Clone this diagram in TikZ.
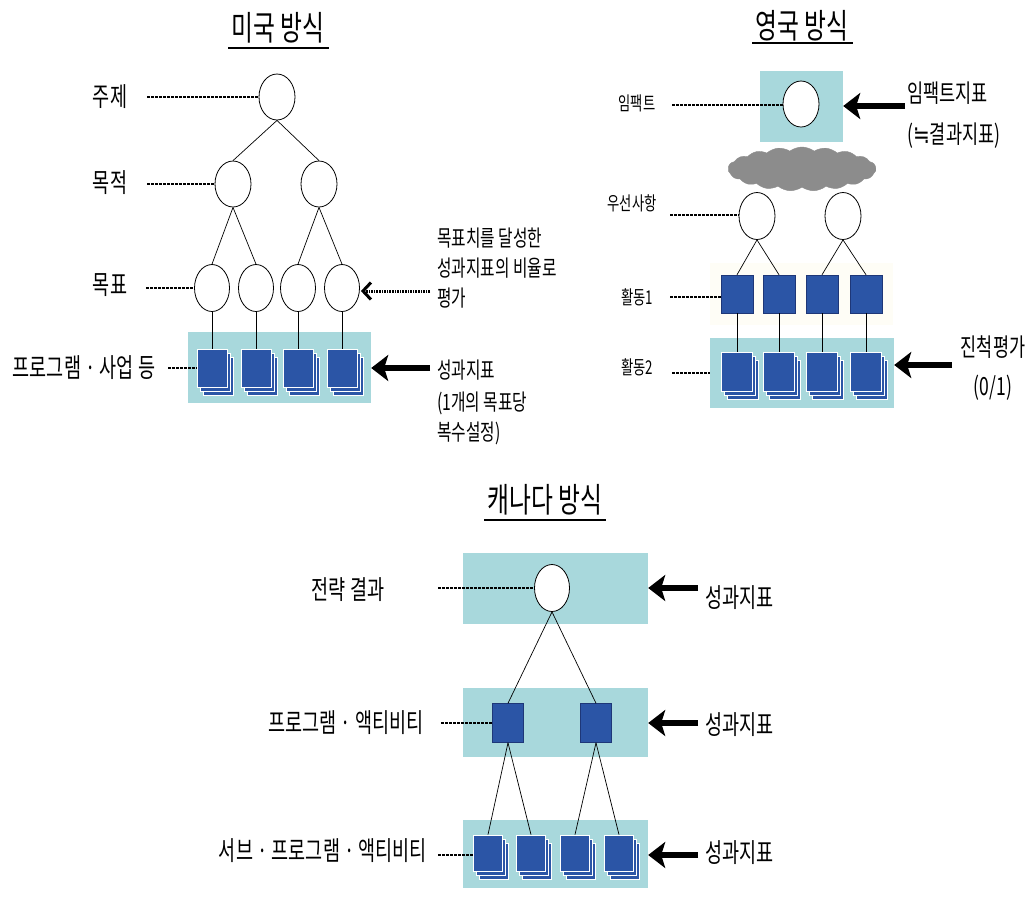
\documentclass[tikz,border=0pt]{standalone}
\usepackage{fontspec}
\setmainfont{Noto Sans CJK KR}[FakeStretch=0.7]
\newfontfamily\symfont{DejaVu Sans}[FakeStretch=0.8]
\usetikzlibrary{arrows.meta,shapes.geometric,shapes.symbols}
\definecolor{teal1}{RGB}{168,216,220}
\definecolor{sqblue}{RGB}{43,85,166}
\definecolor{sqedge}{RGB}{30,55,120}
\definecolor{cloudgray}{RGB}{140,140,140}
\definecolor{faint}{RGB}{254,253,246}
\newcommand\mystack[4]{%
  \node[stkl,#4] at ({#2+6},{#3+8}) {};
  \node[stkl,#4] at ({#2+3},{#3+4}) {};
  \node[stkl,#4] (#1) at (#2,#3) {};
}
\begin{document}
\begin{tikzpicture}[x=1pt,y=-1pt,
 ell/.style={ellipse,draw,fill=white,line width=0.8pt,minimum width=36pt,minimum height=46pt,inner sep=0},
 box/.style={rectangle,fill=teal1,draw=none,inner sep=0},
 sqr/.style={rectangle,fill=sqblue,draw=sqedge,line width=0.5pt,minimum width=32pt,minimum height=38pt,inner sep=0},
 stkl/.style={rectangle,fill=sqblue,draw=white,line width=0.8pt,minimum width=30pt,minimum height=38pt,inner sep=0},
 conn/.style={line width=0.7pt},
 dsh/.style={line width=1.4pt,dash pattern=on 2.6pt off 1.4pt},
 bigarrow/.style={line width=6pt,-{Stealth[length=17pt,width=26pt,inset=4pt]}},
 dotarrow/.style={line width=3pt,dash pattern=on 1.6pt off 1pt,-{Straight Barb[length=8pt,width=17pt,line width=3pt]}},
 uline/.style={line width=1.6pt},
 ttl/.style={font=\fontsize{34}{38}\selectfont,inner sep=0},
 labL/.style={font=\fontsize{26.5}{30}\selectfont,inner sep=0},
 labS/.style={font=\fontsize{19}{22}\selectfont,inner sep=0},
 labR/.style={font=\fontsize{22.5}{26}\selectfont,inner sep=0,anchor=west},
 labU/.style={font=\fontsize{25}{29}\selectfont,inner sep=0},
]
\useasboundingbox[fill=white] (0,0) rectangle (1036,898);

%%%%%%%%%%%%%%%% US
\node[ttl] (usT) at (278,28) {미국 방식};
\draw[uline] (228,48) -- (329,48);
\node[box,minimum width=183pt,minimum height=71pt] (usB) at (279.5,367.5) {};
\node[ell] (A) at (277,97) {};
\node[ell] (B1) at (233,184) {};
\node[ell] (B2) at (319,184) {};
\node[ell,minimum width=35pt,minimum height=47pt] (C1) at (212,288) {};
\node[ell,minimum width=35pt,minimum height=47pt] (C2) at (256,288) {};
\node[ell,minimum width=35pt,minimum height=47pt] (C3) at (298,288) {};
\node[ell,minimum width=35pt,minimum height=47pt] (C4) at (342,288) {};
\mystack{usS1}{212}{368}{}
\mystack{usS2}{256}{368}{}
\mystack{usS3}{298}{368}{}
\mystack{usS4}{342}{368}{}
\draw[conn] (A.south) -- (B1.north);
\draw[conn] (A.south) -- (B2.north);
\draw[conn] (B1.south) -- (C1.north);
\draw[conn] (B1.south) -- (C2.north);
\draw[conn] (B2.south) -- (C3.north);
\draw[conn] (B2.south) -- (C4.north);
\draw[conn] (C1.south) -- (usS1.north);
\draw[conn] (C2.south) -- (usS2.north);
\draw[conn] (C3.south) -- (usS3.north);
\draw[conn] (C4.south) -- (usS4.north);
\node[labL] (uL1) at (110,97) {주제};
\node[labL] (uL2) at (110,183) {목적};
\node[labL] (uL3) at (110,285) {목표};
\node[labL] (uL4) at (84,368) {프로그램 · 사업 등};
\coordinate (ud1) at (147,97);
\coordinate (ud2) at (147,184);
\coordinate (ud3) at (146,288);
\coordinate (ud4) at (168,368);
\draw[dsh] (ud1) -- (A.west);
\draw[dsh] (ud2) -- (B1.west);
\draw[dsh] (ud3) -- (C1.west);
\draw[dsh] (ud4) -- (usS1.west);
\coordinate (uDA) at (430,291);
\draw[dotarrow] (uDA) -- ([xshift=1pt]C4.east |- uDA);
\coordinate (uBA) at (430,368);
\draw[bigarrow] (uBA) -- (usB.east |- uBA);
\node[labR] (uR1) at (437,238) {목표치를 달성한};
\node[labR] (uR2) at (437,268) {성과지표의 비율로};
\node[labR] (uR3) at (437,298) {평가};
\node[labR] (uR4) at (437,370) {성과지표};
\node[labR] (uR5) at (437,403) {(1개의 목표당};
\node[labR] (uR6) at (437,433) {복수설정)};

%%%%%%%%%%%%%%%% UK
\node[ttl] (ukT) at (802,26) {영국 방식};
\draw[uline] (752,43) -- (853,43);
\node[box,minimum width=83pt,minimum height=71pt] (ukB1) at (801.5,106.5) {};
\node[rectangle,fill=faint,inner sep=0,minimum width=183pt,minimum height=62pt] (ukF) at (801.5,294) {};
\node[box,minimum width=184pt,minimum height=70pt] (ukB2) at (802,373) {};
\node[ell] (U0) at (801,104) {};
\node[cloud,cloud puffs=19,cloud puff arc=75,aspect=3.4,fill=cloudgray,draw=cloudgray,minimum width=148pt,minimum height=44pt,inner sep=0] (cld) at (802,169) {};
\node[ell,minimum height=47pt] (U1) at (757,216) {};
\node[ell,minimum height=47pt] (U2) at (843,216) {};
\node[sqr] (K1a) at (737,294) {};
\node[sqr] (K2a) at (779,294) {};
\node[sqr] (K3a) at (822,294) {};
\node[sqr] (K4a) at (866,294) {};
\mystack{ukS1}{737}{372}{minimum width=31pt,minimum height=39pt}
\mystack{ukS2}{779}{372}{minimum width=31pt,minimum height=39pt}
\mystack{ukS3}{822}{372}{minimum width=31pt,minimum height=39pt}
\mystack{ukS4}{866}{372}{minimum width=31pt,minimum height=39pt}
\draw[conn] (U1.south) -- (K1a.north);
\draw[conn] (U1.south) -- (K2a.north);
\draw[conn] (U2.south) -- (K3a.north);
\draw[conn] (U2.south) -- (K4a.north);
\draw[conn] (K1a.south) -- (ukS1.north);
\draw[conn] (K2a.south) -- (ukS2.north);
\draw[conn] (K3a.south) -- (ukS3.north);
\draw[conn] (K4a.south) -- (ukS4.north);
\node[labS] (kL1) at (637,103) {임팩트};
\node[labS] (kL2) at (632,203) {우선사항};
\node[labS] (kL3) at (637,297) {활동1};
\node[labS] (kL4) at (637,367) {활동2};
\coordinate (kd1) at (672,105);
\coordinate (kd2) at (670,215);
\coordinate (kd3) at (670,297);
\coordinate (kd4) at (672,373);
\draw[dsh] (kd1) -- (U0.west |- kd1);
\draw[dsh] (kd2) -- (U1.west |- kd2);
\draw[dsh] (kd3) -- (K1a.west |- kd3);
\draw[dsh] (kd4) -- (ukB2.west);
\coordinate (kA1) at (905,106);
\draw[bigarrow] (kA1) -- (ukB1.east |- kA1);
\coordinate (kA2) at (952,365);
\draw[bigarrow] (kA2) -- (ukB2.east |- kA2);
\node[labU,anchor=west] (kR1) at (907,93) {임팩트지표};
\node[labU,anchor=west] (kR2) at (907,136) {({\symfont ≒}결과지표)};
\node[labU] (kR3) at (993,347) {진척평가};
\node[labU] (kR4) at (993,388) {(0/1)};

%%%%%%%%%%%%%%%% Canada
\node[ttl] (caT) at (545,500) {캐나다 방식};
\draw[uline] (484,520) -- (606,520);
\node[box,minimum width=185pt,minimum height=71pt] (caB1) at (555.5,588.5) {};
\node[box,minimum width=185pt,minimum height=69pt] (caB2) at (555.5,722.5) {};
\node[box,minimum width=185pt,minimum height=68pt] (caB3) at (555.5,854) {};
\node[ell,minimum width=35pt,minimum height=47pt] (P0) at (552,588) {};
\node[sqr,minimum width=31pt,minimum height=39pt] (P1) at (508,723) {};
\node[sqr,minimum width=31pt,minimum height=39pt] (P2) at (596,723) {};
\mystack{caS1}{488}{853}{minimum width=29pt,minimum height=36pt}
\mystack{caS2}{531}{853}{minimum width=29pt,minimum height=36pt}
\mystack{caS3}{575}{853}{minimum width=29pt,minimum height=36pt}
\mystack{caS4}{619}{853}{minimum width=29pt,minimum height=36pt}
\draw[conn] (P0.south) -- (P1.north);
\draw[conn] (P0.south) -- (P2.north);
\draw[conn] (P1.south) -- (caS1.north);
\draw[conn] (P1.south) -- (caS2.north);
\draw[conn] (P2.south) -- (caS3.north);
\draw[conn] (P2.south) -- (caS4.north);
\node[labL] (cL1) at (348,590) {전략 결과};
\node[labL] (cL2) at (346,723) {프로그램 · 액티비티};
\node[labL] (cL3) at (323,851) {서브 · 프로그램 · 액티비티};
\coordinate (cd1) at (438,588);
\coordinate (cd2) at (441,723);
\coordinate (cd3) at (438,855);
\draw[dsh] (cd1) -- (P0.west);
\draw[dsh] (cd2) -- (P1.west);
\draw[dsh] (cd3) -- (caS1.west |- cd3);
\coordinate (cA1) at (698,588);
\coordinate (cA2) at (698,723);
\coordinate (cA3) at (698,855);
\draw[bigarrow] (cA1) -- (caB1.east |- cA1);
\draw[bigarrow] (cA2) -- (caB2.east |- cA2);
\draw[bigarrow] (cA3) -- (caB3.east |- cA3);
\node[labL,anchor=west] (cR1) at (705,598) {성과지표};
\node[labL,anchor=west] (cR2) at (705,725) {성과지표};
\node[labL,anchor=west] (cR3) at (705,853) {성과지표};
\end{tikzpicture}
\end{document}
